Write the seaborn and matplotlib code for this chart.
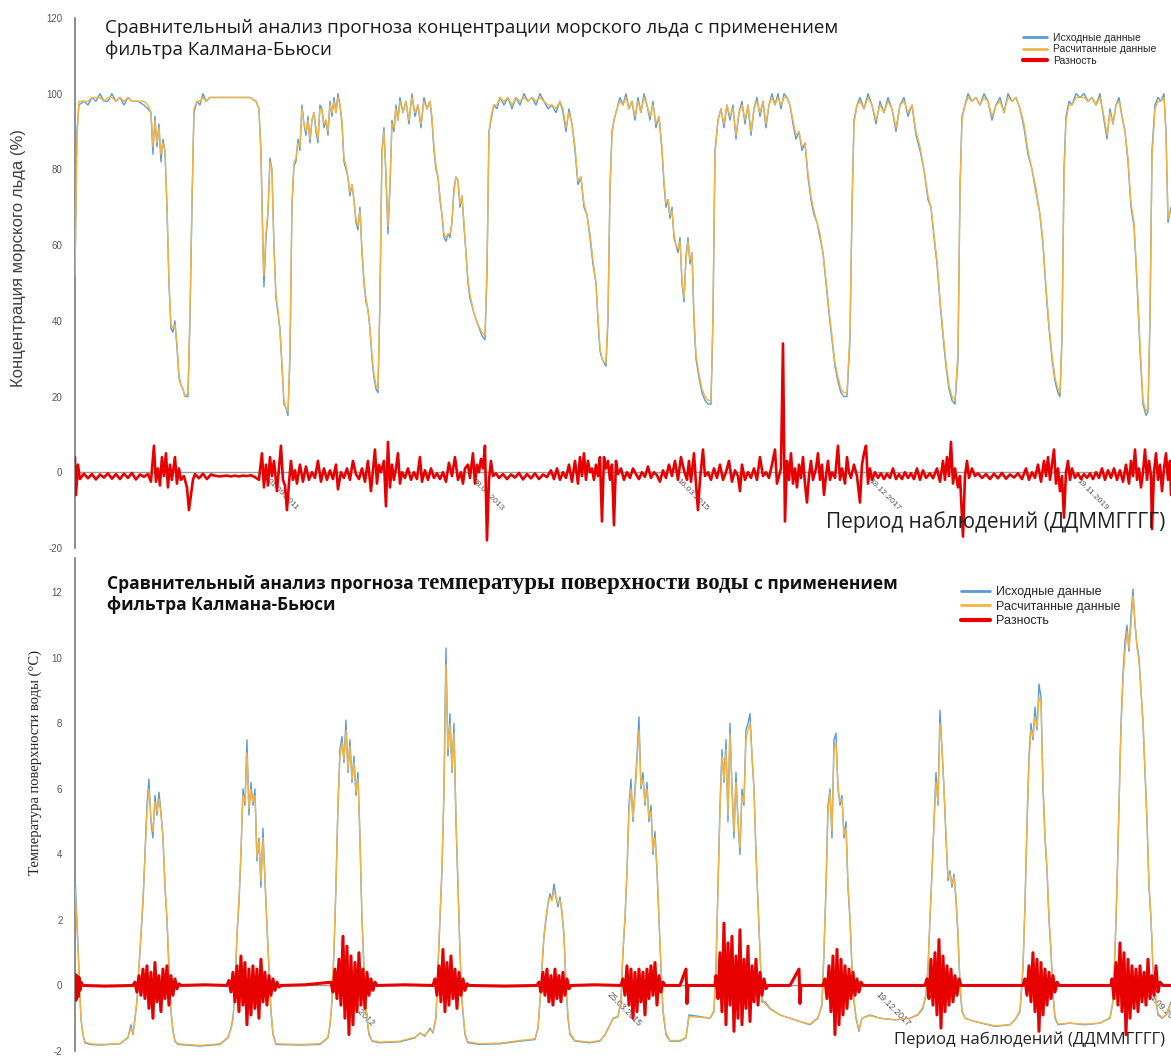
import seaborn as sns
import matplotlib.pyplot as plt

# --- Концентрация морского льда (%) : номер наблюдения / исходные / расчитанные ---
ice_t = [0, 2, 4, 9, 13, 17, 21, 25, 29, 33, 37, 41, 45, 49, 53, 57, 63, 69, 73, 76,
         78, 80, 82, 84, 86, 88, 90, 92, 94, 96, 98, 100, 102, 104, 106, 108, 110, 113, 115, 117,
         119, 122, 125, 128, 131, 135, 141, 147, 155, 165, 175, 181, 184, 186, 188, 189, 191, 193, 195, 197,
         199, 201, 203, 205, 207, 209, 211, 213, 215, 217, 219, 221, 223, 225, 227, 229, 231, 233, 235, 237,
         239, 241, 243, 245, 247, 249, 251, 253, 255, 257, 259, 261, 263, 265, 267, 269, 271, 273, 275, 277,
         279, 281, 283, 285, 287, 289, 291, 293, 295, 297, 299, 301, 303, 305, 307, 309, 311, 313, 315, 317,
         319, 321, 323, 325, 328, 331, 334, 337, 340, 343, 346, 349, 352, 355, 357, 359, 361, 363, 365, 367,
         369, 371, 373, 375, 377, 379, 381, 383, 385, 387, 389, 391, 393, 395, 399, 403, 407, 410, 412, 414,
         416, 419, 422, 425, 429, 433, 437, 441, 445, 449, 453, 457, 461, 465, 469, 473, 477, 481, 485, 488,
         491, 494, 497, 500, 503, 506, 509, 512, 515, 518, 521, 523, 525, 527, 529, 531, 533, 535, 537, 539,
         542, 545, 548, 551, 554, 557, 560, 563, 566, 569, 572, 575, 578, 581, 584, 587, 589, 591, 593, 595,
         597, 599, 601, 603, 605, 607, 609, 611, 613, 615, 617, 619, 621, 624, 627, 630, 633, 636, 638, 640,
         643, 646, 649, 652, 655, 658, 661, 664, 667, 670, 673, 676, 679, 682, 685, 688, 691, 694, 697, 700,
         703, 706, 709, 712, 715, 718, 721, 724, 727, 730, 733, 736, 739, 742, 745, 748, 751, 754, 757, 760,
         763, 766, 769, 772, 775, 777, 779, 782, 785, 789, 793, 797, 801, 805, 809, 813, 817, 821, 825, 829,
         833, 837, 841, 845, 849, 853, 856, 859, 862, 865, 868, 871, 874, 877, 880, 883, 885, 887, 890, 893,
         897, 901, 905, 909, 913, 917, 921, 925, 929, 933, 937, 941, 945, 949, 953, 957, 961, 965, 968, 971,
         974, 977, 980, 983, 985, 987, 989, 991, 994, 997, 1001, 1005, 1009, 1013, 1017, 1021, 1025, 1029, 1032, 1035,
         1038, 1041, 1044, 1047, 1050, 1053, 1056, 1059, 1062, 1065, 1068, 1071, 1073, 1075, 1077, 1080, 1083, 1086, 1089, 1091, 1093, 1096]
ice_obs = [50, 90, 97, 98, 97, 99, 98, 100, 98, 98, 100, 98, 99, 97, 99, 98, 98, 97, 96, 95,
           84, 94, 86, 92, 82, 88, 85, 70, 50, 38, 37, 40, 33, 25, 23, 22, 20, 20, 40, 70,
           95, 98, 97, 100, 98, 99, 99, 99, 99, 99, 99, 98, 96, 85, 60, 49, 62, 68, 83, 80,
           60, 46, 42, 38, 28, 18, 17, 15, 30, 70, 81, 82, 88, 85, 97, 92, 89, 94, 87, 93,
           95, 90, 87, 97, 96, 91, 93, 89, 98, 94, 99, 95, 100, 97, 92, 82, 80, 78, 73, 76,
           72, 66, 64, 70, 58, 50, 45, 43, 38, 30, 25, 22, 21, 45, 85, 91, 78, 63, 75, 93,
           90, 97, 93, 99, 95, 98, 92, 100, 94, 97, 91, 99, 96, 98, 93, 85, 80, 78, 72, 68,
           62, 61, 63, 62, 66, 75, 78, 77, 70, 73, 65, 58, 50, 46, 42, 39, 36, 35, 52, 90,
           93, 97, 96, 99, 97, 99, 96, 99, 97, 100, 98, 99, 97, 100, 98, 96, 97, 95, 98, 95,
           90, 96, 92, 85, 76, 78, 70, 68, 62, 55, 50, 40, 32, 30, 29, 28, 40, 75, 90, 93,
           96, 99, 97, 100, 96, 98, 93, 99, 95, 100, 97, 93, 98, 91, 94, 85, 76, 70, 72, 67,
           70, 62, 60, 58, 62, 50, 45, 57, 62, 55, 58, 40, 30, 25, 21, 19, 18, 18, 40, 85,
           93, 96, 91, 97, 93, 97, 88, 95, 98, 92, 97, 89, 96, 99, 94, 98, 91, 97, 100, 97,
           100, 96, 100, 99, 97, 92, 88, 90, 85, 87, 78, 72, 68, 66, 62, 58, 50, 42, 35, 28,
           24, 21, 20, 20, 35, 70, 93, 97, 99, 96, 100, 97, 92, 98, 95, 99, 96, 90, 97, 99,
           94, 97, 89, 85, 80, 72, 70, 62, 55, 45, 36, 28, 22, 19, 18, 30, 75, 94, 97, 100,
           98, 99, 97, 100, 98, 93, 97, 99, 95, 100, 98, 99, 96, 91, 84, 80, 74, 68, 60, 48,
           38, 30, 24, 21, 20, 35, 80, 94, 98, 97, 100, 99, 100, 98, 99, 97, 100, 93, 88, 96,
           92, 97, 99, 94, 90, 82, 70, 65, 50, 32, 18, 15, 16, 40, 85, 97, 99, 98, 100, 90, 66, 70]
ice_calc = [52, 88, 98, 98, 98, 99, 99, 99, 98, 99, 99, 98, 99, 98, 99, 98, 98, 98, 97, 95,
            86, 93, 87, 91, 84, 87, 85, 71, 51, 39, 38, 39, 34, 26, 23, 22, 20, 21, 42, 72,
            96, 98, 98, 99, 98, 99, 99, 99, 99, 99, 99, 98, 96, 84, 58, 52, 63, 69, 82, 80,
            59, 47, 43, 37, 29, 19, 17, 16, 32, 71, 82, 83, 87, 86, 96, 92, 90, 93, 88, 93,
            95, 91, 88, 96, 96, 92, 93, 90, 97, 95, 98, 95, 99, 97, 93, 83, 81, 78, 74, 76,
            72, 67, 65, 69, 59, 51, 46, 43, 38, 31, 26, 23, 22, 47, 84, 90, 79, 65, 76, 92,
            91, 96, 93, 98, 95, 98, 93, 99, 95, 97, 92, 98, 96, 98, 94, 86, 81, 78, 73, 68,
            63, 62, 63, 63, 66, 74, 78, 77, 71, 73, 66, 58, 51, 47, 42, 39, 37, 36, 54, 89,
            94, 97, 97, 99, 98, 99, 97, 99, 98, 99, 98, 99, 98, 99, 98, 97, 97, 96, 98, 96,
            91, 95, 92, 86, 77, 78, 71, 68, 63, 56, 50, 41, 33, 30, 29, 29, 42, 74, 89, 93,
            96, 98, 97, 99, 96, 98, 94, 98, 95, 99, 97, 94, 97, 92, 94, 86, 77, 71, 72, 68,
            69, 63, 60, 59, 61, 51, 46, 56, 61, 56, 58, 42, 31, 26, 22, 20, 19, 19, 42, 84,
            93, 96, 92, 97, 94, 96, 89, 95, 97, 93, 97, 90, 96, 98, 95, 98, 92, 97, 99, 97,
            99, 97, 99, 99, 97, 93, 89, 90, 86, 87, 79, 73, 69, 66, 63, 58, 51, 43, 36, 29,
            25, 22, 21, 21, 37, 69, 92, 97, 98, 96, 99, 97, 93, 97, 95, 98, 96, 91, 97, 98,
            95, 97, 90, 86, 80, 73, 70, 63, 56, 46, 37, 29, 23, 20, 19, 32, 74, 93, 97, 99,
            98, 99, 97, 99, 98, 94, 97, 98, 95, 99, 98, 99, 96, 92, 85, 80, 75, 68, 61, 49,
            39, 31, 25, 22, 21, 37, 78, 93, 97, 97, 99, 99, 99, 98, 99, 97, 99, 94, 89, 95,
            92, 97, 98, 94, 90, 83, 71, 66, 51, 34, 19, 16, 17, 42, 83, 96, 98, 98, 99, 89, 67, 69]

# разность (лёд)
ice_diff_t = [0, 1, 3, 5, 9, 13, 17, 21, 25, 29, 33, 37, 41, 45, 49, 53, 57, 61, 65, 69,
              73, 76, 79, 81, 83, 85, 87, 89, 91, 93, 95, 97, 100, 102, 104, 106, 109, 112, 114, 116,
              118, 120, 124, 128, 132, 136, 140, 144, 148, 152, 156, 160, 164, 168, 172, 176, 180, 184, 187, 189,
              191, 193, 195, 197, 199, 202, 204, 206, 208, 210, 212, 214, 216, 218, 220, 222, 225, 228, 231, 234,
              237, 240, 243, 246, 249, 252, 255, 258, 261, 263, 266, 269, 272, 275, 278, 281, 284, 287, 290, 293,
              296, 298, 300, 302, 304, 306, 309, 311, 313, 315, 317, 319, 321, 323, 325, 327, 330, 333, 336, 339,
              342, 345, 347, 350, 353, 356, 359, 362, 365, 368, 371, 374, 377, 380, 383, 386, 388, 390, 393, 395,
              398, 400, 402, 404, 406, 408, 410, 412, 414, 416, 418, 421, 424, 428, 432, 436, 440, 444, 448, 452,
              456, 460, 464, 468, 472, 476, 479, 482, 485, 488, 491, 494, 497, 500, 503, 505, 507, 509, 511, 513,
              515, 517, 519, 521, 523, 525, 527, 529, 531, 533, 535, 537, 539, 541, 543, 546, 549, 552, 555, 558,
              561, 564, 567, 570, 573, 576, 579, 582, 585, 588, 591, 594, 597, 600, 603, 606, 609, 612, 614, 616,
              619, 621, 623, 625, 628, 630, 633, 636, 639, 642, 645, 648, 651, 654, 657, 660, 663, 665, 667, 670,
              673, 676, 679, 682, 685, 688, 691, 694, 697, 700, 702, 704, 706, 708, 710, 712, 714, 716, 718, 720,
              722, 724, 726, 728, 730, 732, 734, 736, 738, 741, 743, 745, 747, 749, 751, 753, 755, 757, 760, 763,
              765, 767, 770, 772, 774, 776, 779, 782, 785, 787, 789, 791, 793, 795, 797, 800, 803, 806, 809, 812,
              815, 818, 821, 824, 827, 830, 833, 836, 839, 842, 845, 848, 851, 855, 858, 862, 865, 868, 870, 872,
              874, 876, 878, 880, 883, 885, 888, 890, 892, 894, 897, 900, 903, 907, 911, 915, 919, 923, 927, 931,
              935, 939, 943, 947, 951, 954, 957, 960, 963, 966, 969, 971, 973, 975, 977, 979, 981, 983, 985, 987,
              989, 991, 993, 995, 997, 1000, 1003, 1006, 1009, 1012, 1015, 1018, 1021, 1024, 1027, 1030, 1033, 1036, 1039, 1042,
              1045, 1048, 1051, 1054, 1056, 1058, 1060, 1062, 1064, 1066, 1068, 1070, 1072, 1074, 1076, 1077, 1079, 1081, 1083, 1085,
              1087, 1089, 1091, 1093, 1095, 1096]
ice_diff_v = [4, -6, 2, -1.8, -0.4, -1.6, -0.5, -1.9, -0.6, -1.4, -0.3, -1.7, -0.5, -1.8, -0.4, -1.5, -0.2, -1.9, -0.6, -1.2,
              -0.5, -2.5, 7, -2.5, 1, -3.5, 4, -1, 5, -4, 2, -2, 4, -3, 1, -2, -1, -4, -10, -6,
              -2, -0.5, -1.6, -0.4, -1.8, -0.6, -0.9, -1.1, -1.0, -0.9, -1.1, -0.9, -1.1, -0.9, -1.0, -0.8, -1.3, -2, 5, -4,
              2, -3.5, 4, -1, 3, -5, 1, 7, -2, -3.5, -10, -3, 3, -2, 0.5, -3, 2, -2.5, 1.5, -2,
              0, -1.5, 3, -2.5, 1, -2, 0.5, -1.8, 2, -4.5, 0, -1.5, 1, -2, 3, -0.5, -1.8, 1, -2.5, 3,
              -5, 0.5, 6, -3, 2, 0, 3, -9, 8, -4, 2, -2, 1, 5, -3, 0, -1.5, 1, -2, 0,
              -1.8, 4, -2.5, 0.5, -2, 1, -1.5, -0.3, -1.8, 0, -2.5, 2.5, -1, 4, -2, 0, -3, 1, 2, -1.5,
              5, -3, 2, 0, 3.5, 1, 7, -18, -2, 3, -1, -0.3, -1.5, -0.5, -1.8, -0.6, -1.4, -0.2, -1.9, -0.5,
              -1.6, -0.3, -1.8, -0.6, -1.3, 0.5, -1.8, 1, -2, 0, -1.5, 2, -2.5, 3, -3, 4, -1, 5, -2, 3,
              0, 1, -2, 2, -1, 4, -13, 4, 1, 3, -2, 2, -14, 3, -0.5, 1, -2, 0, -1.5, 1,
              -0.5, -1.8, 0, -1.2, 1.5, -1.5, 0, -0.8, -2.5, 0.5, -1.5, 2, -1, 3, -2, 4, 0.5, -2, 3, -2.5,
              5, -3, -10, -2, 6, -1, 0, -2, 1, -1.5, 2, -2, 0, 3, -2.5, 0.5, -1, -5, 2, -2,
              0, -1.5, 1, -2, 4, -1, 0, -1.5, 2, 6, -3, -1, 1, 34, -13, 3, -2, 5, -3, 1,
              -4, 2, -1.5, 4, -3, -8, -1, 3, -2, 1, 5, -2, 2, -6, -1, 3, -2, 0, -1.5, 7,
              -2, 1, -3, 4, 0, -1.5, 2, -1, -8, 2, 5, 7, -3, 1, -2, 0, -1.5, -0.3, -1.8, -0.4,
              -1.5, 1, -1.8, -0.5, -1.8, 0, -1.5, -0.3, -1.8, 1, -2, 0.5, -1.5, -0.3, -1.6, 1, -2.5, 3, -2, 4,
              -1, 8, -3, 1, -4, -1, -17, -1, 3, -1.5, 1, -1, -0.3, -1.5, -0.5, -1.8, -0.4, -1.6, -0.2, -1.7,
              -0.6, -1.4, -0.3, -1.8, 1, -2, 0, -1.5, 2, -2.5, 3, -1, 4, -2, 2, 6, -3, 1, -5, -1,
              -12, 0, 3, -2, 1, -1.5, -0.3, -1.8, -0.5, -1.5, -0.3, -1.8, 0, -1.5, 1, -2, 0.5, -1.5, 1, -2,
              0.5, -2.5, 2, -3, 3, -1, 6, -2, 1, -4, 0, 6, -2, 3, -1, -15, 0, 5, -2, 2,
              -5, 1, 5, -2, 3, -6]

ice_ticks = [195, 400, 605, 797, 1005]
ice_tick_labels = ['01.09.2011', '08.06.2013', '16.03.2015', '18.12.2017', '19.11.2019']

# --- Температура поверхности воды (°C) ---
sst_t = [0, 2, 4, 6, 8, 10, 15, 25, 35, 45, 53, 56, 58, 60, 62, 64, 66, 68, 70, 72,
         74, 76, 78, 80, 82, 84, 86, 88, 90, 92, 94, 96, 98, 100, 103, 125, 145, 153, 156, 158,
         160, 162, 164, 166, 168, 170, 172, 174, 176, 178, 180, 182, 184, 186, 188, 190, 192, 194, 196, 198,
         201, 225, 245, 253, 255, 257, 259, 261, 263, 265, 267, 269, 271, 273, 275, 277, 279, 281, 283, 285,
         287, 289, 291, 294, 297, 305, 325, 340, 345, 350, 355, 358, 361, 363, 365, 367, 369, 371, 373, 375,
         377, 379, 381, 383, 385, 387, 390, 393, 405, 425, 445, 460, 463, 465, 467, 469, 471, 473, 475, 477,
         479, 481, 483, 485, 487, 489, 491, 493, 495, 500, 515, 525, 530, 535, 538, 543, 546, 548, 550, 552,
         554, 556, 558, 560, 562, 564, 566, 568, 570, 572, 574, 576, 578, 580, 582, 584, 586, 588, 591, 595,
         605, 611, 614, 625, 635, 639, 641, 643, 645, 647, 649, 651, 653, 655, 657, 659, 661, 663, 665, 667,
         669, 671, 673, 675, 677, 679, 681, 683, 685, 687, 690, 695, 705, 715, 725, 735, 743, 747, 749, 751,
         753, 755, 757, 759, 761, 763, 765, 767, 769, 771, 773, 775, 777, 779, 781, 784, 787, 795, 805, 820,
         835, 843, 848, 851, 853, 855, 857, 859, 861, 863, 865, 867, 869, 871, 873, 875, 877, 879, 881, 883,
         885, 887, 890, 900, 920, 935, 940, 945, 948, 950, 952, 954, 956, 958, 960, 962, 964, 966, 968, 970,
         972, 974, 976, 978, 980, 983, 995, 1010, 1025, 1035, 1038, 1040, 1042, 1044, 1046, 1048, 1050, 1052, 1054, 1056,
         1058, 1060, 1062, 1064, 1066, 1068, 1070, 1072, 1074, 1076, 1078, 1080, 1083, 1087, 1091, 1096]
sst_obs = [3.4, 2.0, 0.5, -1.0, -1.5, -1.75, -1.8, -1.82, -1.8, -1.78, -1.6, -1.2, -1.5, -1.0, -0.5, 0.5, 1.5, 2.5, 4.0, 5.5,
           6.3, 5.0, 4.5, 5.8, 5.2, 5.9, 5.3, 4.5, 3.0, 2.0, 0.5, -0.8, -1.4, -1.7, -1.8, -1.85, -1.8, -1.6, -1.3, -1.0,
           -0.2, 1.5, 2.5, 4.0, 6.0, 5.5, 7.5, 5.2, 6.2, 5.5, 6.0, 3.8, 4.5, 3.0, 4.8, 3.2, 1.8, 0.5, -0.8, -1.5,
           -1.8, -1.82, -1.8, -1.6, -1.2, -0.5, 1.0, 3.0, 5.5, 7.2, 7.6, 6.8, 8.1, 6.5, 7.5, 6.2, 7.0, 5.8, 6.5, 4.5,
           2.0, 0.5, -0.8, -1.5, -1.7, -1.75, -1.72, -1.6, -1.45, -1.55, -1.3, -1.45, -1.0, 0.5, 2.0, 3.5, 6.0, 10.3, 7.0, 8.3,
           6.5, 8.0, 5.0, 3.0, 1.0, -0.5, -1.5, -1.75, -1.8, -1.78, -1.7, -1.65, -1.3, -0.5, 0.5, 1.5, 2.0, 2.5, 2.8, 2.6,
           3.1, 2.7, 2.4, 2.7, 2.2, 1.5, 0.0, -1.0, -1.5, -1.7, -1.75, -1.7, -1.5, -1.2, -1.0, -0.95, -0.5, 1.0, 2.0, 3.5,
           5.5, 6.3, 5.0, 6.0, 7.0, 8.2, 6.0, 6.5, 5.5, 6.2, 5.0, 5.5, 4.0, 4.7, 3.5, 2.0, 0.5, -0.8, -1.5, -1.7,
           -1.7, -1.6, -0.9, -0.95, -1.0, -0.8, 0.5, 3.0, 5.5, 7.2, 6.2, 7.5, 5.0, 8.0, 6.0, 4.5, 6.5, 5.0, 4.0, 6.0,
           5.5, 7.8, 8.0, 8.3, 7.0, 6.0, 4.0, 2.5, 1.0, -0.5, -0.5, -0.7, -0.9, -1.0, -1.1, -1.2, -1.0, -0.6, 1.0, 3.0,
           5.5, 6.0, 4.5, 7.5, 7.7, 6.0, 5.5, 5.8, 4.5, 5.0, 3.0, 2.0, 0.5, -0.5, -1.0, -1.4, -1.0, -0.9, -1.0, -1.05,
           -1.0, -0.9, -0.7, -0.3, 0.5, 2.0, 3.5, 5.0, 6.5, 5.5, 8.4, 7.2, 6.0, 4.5, 3.2, 3.5, 3.0, 3.4, 2.6, 1.5,
           0.0, -0.8, -1.0, -1.1, -1.25, -1.2, -1.05, -0.8, 0.5, 2.5, 5.0, 7.0, 8.0, 7.5, 8.5, 7.8, 9.2, 8.8, 6.0, 4.5,
           3.5, 2.0, 1.0, -0.3, -1.0, -1.2, -1.15, -1.2, -1.15, -1.0, -0.5, 1.0, 3.0, 5.5, 8.0, 9.5, 10.5, 11.0, 10.2, 11.3,
           12.1, 11.0, 10.4, 10.0, 9.0, 8.0, 6.5, 5.0, 3.0, 2.0, 0.5, -0.3, -0.9, -1.0, -0.9, -0.5]
sst_calc = [3.0, 1.8, 0.4, -1.0, -1.5, -1.72, -1.78, -1.8, -1.79, -1.77, -1.58, -1.3, -1.45, -1.05, -0.45, 0.6, 1.6, 2.6, 3.9, 5.3,
            6.0, 5.1, 4.7, 5.6, 5.3, 5.7, 5.2, 4.6, 3.1, 2.1, 0.6, -0.7, -1.35, -1.68, -1.78, -1.83, -1.78, -1.58, -1.35, -1.05,
            -0.1, 1.6, 2.6, 4.1, 5.8, 5.6, 7.1, 5.4, 6.0, 5.6, 5.8, 3.9, 4.4, 3.2, 4.5, 3.3, 1.9, 0.6, -0.7, -1.45,
            -1.78, -1.8, -1.78, -1.58, -1.25, -0.45, 1.1, 3.1, 5.4, 7.0, 7.4, 6.9, 7.8, 6.6, 7.3, 6.3, 6.8, 5.9, 6.3, 4.6,
            2.1, 0.6, -0.7, -1.45, -1.68, -1.73, -1.7, -1.58, -1.47, -1.52, -1.35, -1.42, -0.95, 0.6, 2.1, 3.6, 5.8, 9.8, 7.2, 8.0,
            6.6, 7.7, 5.2, 3.1, 1.1, -0.4, -1.45, -1.72, -1.78, -1.76, -1.68, -1.63, -1.32, -0.45, 0.6, 1.5, 2.1, 2.5, 2.7, 2.6,
            2.9, 2.7, 2.5, 2.6, 2.3, 1.6, 0.1, -0.9, -1.45, -1.68, -1.73, -1.68, -1.52, -1.22, -1.02, -0.97, -0.45, 1.1, 2.1, 3.4,
            5.3, 6.0, 5.1, 5.8, 6.8, 7.8, 6.1, 6.3, 5.6, 6.0, 5.1, 5.3, 4.1, 4.5, 3.6, 2.1, 0.6, -0.7, -1.45, -1.68,
            -1.68, -1.58, -0.95, -0.97, -1.0, -0.75, 0.6, 2.9, 5.3, 7.0, 6.3, 7.2, 5.2, 7.7, 6.1, 4.7, 6.2, 5.1, 4.2, 5.8,
            5.6, 7.5, 7.8, 8.0, 7.1, 6.0, 4.1, 2.6, 1.1, -0.4, -0.55, -0.72, -0.9, -1.0, -1.1, -1.18, -0.98, -0.55, 1.1, 2.9,
            5.3, 5.9, 4.7, 7.2, 7.4, 6.1, 5.6, 5.7, 4.6, 4.8, 3.1, 2.1, 0.6, -0.4, -0.95, -1.35, -1.0, -0.92, -1.0, -1.05,
            -1.0, -0.88, -0.65, -0.25, 0.6, 2.1, 3.4, 4.9, 6.2, 5.6, 8.0, 7.3, 6.0, 4.6, 3.3, 3.4, 3.1, 3.3, 2.7, 1.6,
            0.1, -0.75, -1.0, -1.1, -1.23, -1.2, -1.05, -0.75, 0.6, 2.4, 4.8, 6.8, 7.8, 7.6, 8.2, 7.9, 8.8, 8.6, 6.2, 4.6,
            3.6, 2.1, 1.1, -0.2, -0.95, -1.18, -1.15, -1.18, -1.15, -0.98, -0.45, 1.1, 3.1, 5.4, 7.8, 9.3, 10.2, 10.8, 10.3, 11.0,
            11.9, 11.1, 10.3, 9.9, 9.0, 8.1, 6.6, 5.1, 3.1, 2.1, 0.6, -0.2, -0.85, -0.98, -0.9, -0.55]

# разность (температура)
sst_diff_t = [0, 1, 2, 3, 4, 5, 6, 8, 30, 58, 60, 62, 64, 66, 68, 70, 72, 74, 76, 78,
              80, 82, 84, 86, 88, 90, 92, 94, 96, 98, 100, 102, 104, 106, 130, 152, 154, 156, 158, 160,
              162, 164, 166, 168, 170, 172, 174, 176, 178, 180, 182, 184, 186, 188, 190, 192, 194, 196, 198, 200,
              202, 204, 206, 230, 256, 258, 260, 262, 264, 266, 268, 270, 272, 274, 276, 278, 280, 282, 284, 286,
              288, 290, 292, 294, 296, 298, 300, 302, 330, 358, 360, 362, 364, 366, 368, 370, 372, 374, 376, 378,
              380, 382, 384, 386, 388, 390, 392, 394, 430, 462, 464, 466, 468, 470, 472, 474, 476, 478, 480, 482,
              484, 486, 488, 490, 492, 494, 496, 520, 546, 548, 550, 552, 554, 556, 558, 560, 562, 564, 566, 568,
              570, 572, 574, 576, 578, 580, 582, 584, 586, 588, 590, 605, 611, 612, 613, 640, 641, 643, 645, 647,
              649, 651, 653, 655, 657, 659, 661, 663, 665, 667, 669, 671, 673, 675, 677, 679, 681, 683, 685, 687,
              689, 691, 693, 715, 724, 725, 726, 748, 750, 752, 754, 756, 758, 760, 762, 764, 766, 768, 770, 772,
              774, 776, 778, 780, 782, 784, 786, 788, 820, 850, 852, 854, 856, 858, 860, 862, 864, 866, 868, 870,
              872, 874, 876, 878, 880, 882, 884, 886, 920, 948, 950, 952, 954, 956, 958, 960, 962, 964, 966, 968,
              970, 972, 974, 976, 978, 980, 982, 984, 1010, 1036, 1037, 1039, 1041, 1043, 1045, 1047, 1049, 1051, 1053, 1055,
              1057, 1059, 1061, 1063, 1065, 1067, 1069, 1071, 1073, 1075, 1077, 1079, 1081, 1083, 1085, 1088, 1096]
sst_diff_v = [0.35, -0.45, 0.3, -0.35, 0.25, -0.15, 0.1, 0.0, -0.02, 0.0, 0.1, -0.2, 0.3, -0.3, 0.5, -0.4, 0.6, -0.7, 0.4, -1.0,
              0.7, -0.5, 0.3, -0.8, 0.5, -0.4, 0.6, -0.6, 0.3, -0.3, 0.2, -0.1, 0.05, 0.0, 0.02, 0.0, 0.15, -0.2, 0.4, -0.5,
              0.6, -0.8, 0.9, -0.6, 0.7, -1.2, 0.5, -0.9, 0.6, -0.7, 0.5, -1.0, 0.8, -0.5, 0.4, -0.6, 0.3, -0.3, 0.2, -0.15,
              0.1, -0.05, 0.0, 0.02, 0.1, -0.2, 0.5, -0.4, 0.8, -0.6, 1.5, -1.0, 1.2, -1.5, 0.9, -1.2, 0.7, -0.8, 1.0, -0.6,
              0.5, -0.7, 0.4, -0.3, 0.2, -0.15, 0.1, 0.0, 0.02, 0.0, 0.2, -0.3, 0.6, -0.5, 1.1, -0.8, 0.7, -0.6, 0.9, -0.4,
              0.5, -0.7, 0.4, -0.3, 0.2, -0.15, 0.05, 0.0, -0.02, 0.0, 0.1, -0.2, 0.4, -0.3, 0.5, -0.5, 0.3, -0.6, 0.5, -0.4,
              0.3, -0.5, 0.4, -0.3, 0.2, -0.1, 0.0, 0.02, 0.0, 0.2, -0.3, 0.6, -0.6, 0.5, -1.0, 0.4, -0.8, 0.5, -0.5, 0.4,
              -0.9, 0.5, -0.4, 0.6, -0.3, 0.7, -0.6, 0.3, -0.2, 0.1, 0.0, 0.0, 0.5, -0.55, 0.0, 0.0, 0.3, -0.4, 1.0, -0.8,
              1.9, -1.2, 1.3, -0.6, 1.5, -1.4, 0.9, -1.0, 1.7, -1.2, 0.8, -0.7, 1.2, -1.1, 0.6, -0.5, 0.8, -0.6, 0.4, -0.3,
              0.2, -0.1, 0.0, 0.0, 0.5, -0.55, 0.0, 0.0, 0.2, -0.4, 0.6, -0.8, 0.9, -1.5, 1.1, -1.2, 0.8, -0.9, 0.6, -0.7,
              0.5, -0.4, 0.4, -0.3, 0.2, -0.2, 0.1, 0.0, 0.0, 0.0, 0.2, -0.4, 0.8, -0.6, 1.0, -0.9, 1.4, -1.3, 0.9, -0.8,
              0.6, -0.6, 0.5, -0.5, 0.3, -0.3, 0.2, 0.0, 0.0, 0.0, 0.2, -0.3, 0.6, -0.5, 1.0, -0.8, 0.8, -1.4, 0.7, -0.9,
              0.5, -0.6, 0.4, -0.4, 0.3, -0.2, 0.1, 0.0, 0.0, 0.0, 0.2, -0.4, 0.7, -0.6, 1.3, -0.8, 1.0, -1.5, 0.8, -1.0,
              0.6, -0.7, 0.5, -0.8, 0.6, -0.5, 0.4, -0.6, 0.8, -0.4, 0.3, -0.3, 0.6, -0.2, 0.1, 0.0, 0.0]

sst_ticks = [270, 537, 805, 1075]
sst_tick_labels = ['28.06.2012', '25.03.2015', '19.12.2017', '14.09.2020']

legend_labels = ['Исходные данные', 'Расчитанные данные', 'Разность']

BLUE = '#5b9bd5'
ORANGE = '#f2b544'
RED = '#e60000'

sns.set_style('white')
plt.rcParams['font.family'] = ['Open Sans', 'DejaVu Sans']
plt.rcParams['axes.unicode_minus'] = False

fig = plt.figure(figsize=(11.71, 10.57), dpi=100)
fig.patch.set_facecolor('white')
ax1 = fig.add_axes([0.064, 0.4816, 0.936, 0.5014])
ax2 = fig.add_axes([0.064, 0.0057, 0.936, 0.4664])


def draw_panel(ax, t, obs, calc, dt, dv, ticks, tick_labels, tick_size, red_lw):
    sns.lineplot(x=t, y=obs, ax=ax, color=BLUE, linewidth=1.0, estimator=None,
                 label=legend_labels[0], zorder=3)
    sns.lineplot(x=t, y=calc, ax=ax, color=ORANGE, linewidth=1.0, estimator=None,
                 label=legend_labels[1], zorder=4)
    sns.lineplot(x=dt, y=dv, ax=ax, color=RED, linewidth=red_lw, estimator=None,
                 label=legend_labels[2], zorder=5)
    ax.set_xlim(0, 1096)
    for s in ['top', 'right']:
        ax.spines[s].set_visible(False)
    ax.spines['bottom'].set_position(('data', 0))
    ax.spines['bottom'].set_color('#9a9a9a')
    ax.spines['bottom'].set_linewidth(1.0)
    ax.spines['left'].set_color('#7a7a7a')
    ax.spines['left'].set_linewidth(1.2)
    ax.tick_params(axis='y', direction='out', length=7, width=1, color='#7a7a7a',
                   labelsize=7, labelcolor='#555555', pad=2)
    ax.tick_params(axis='x', direction='inout', length=5, width=0.8, color='#555555',
                   labelsize=tick_size, labelcolor='#555555', pad=1)
    ax.set_xticks(ticks)
    ax.set_xticklabels(tick_labels, rotation=-45, ha='left', va='top',
                       rotation_mode='anchor', family=['Liberation Sans', 'DejaVu Sans'])
    for lab in ax.get_yticklabels():
        lab.set_family(['Liberation Sans', 'DejaVu Sans'])
    ax.set_xlabel('')
    ax.set_ylabel('')
    ax.grid(False)


draw_panel(ax1, ice_t, ice_obs, ice_calc, ice_diff_t, ice_diff_v,
           ice_ticks, ice_tick_labels, 6, 1.9)
ax1.set_ylim(-20, 120)
ax1.set_yticks([-20, 0, 20, 40, 60, 80, 100, 120])

draw_panel(ax2, sst_t, sst_obs, sst_calc, sst_diff_t, sst_diff_v,
           sst_ticks, sst_tick_labels, 6.5, 2.2)
ax2.set_ylim(-2, 13.05)
ax2.set_yticks([-2, 0, 2, 4, 6, 8, 10, 12])

# легенды
leg1 = ax1.legend(loc='upper left', bbox_to_anchor=(0.866, 0.978), bbox_transform=fig.transFigure,
                  frameon=False, handlelength=2.3, labelspacing=0.15, handletextpad=0.5,
                  prop={'family': ['Liberation Sans', 'DejaVu Sans'], 'size': 7.5})
leg2 = ax2.legend(loc='upper left', bbox_to_anchor=(0.811, 0.456), bbox_transform=fig.transFigure,
                  frameon=False, handlelength=2.3, labelspacing=0.2, handletextpad=0.5,
                  prop={'family': ['Liberation Sans', 'DejaVu Sans'], 'size': 9})
for leg in (leg1, leg2):
    for ln, w in zip(leg.get_lines(), [2.0, 2.0, 3.0]):
        ln.set_linewidth(w)

# заголовки
fig.text(0.0897, 0.982, 'Сравнительный анализ прогноза концентрации морского льда с применением\n'
         'фильтра Калмана-Бьюси', ha='left', va='top', fontsize=13.5, linespacing=1.25, color='#1a1a1a')

renderer = fig.canvas.get_renderer()
sans = ['Open Sans', 'DejaVu Sans']
serif = ['Liberation Serif', 'DejaVu Serif']
parts = [('Сравнительный анализ прогноза', sans, 12.5), ('температуры поверхности воды', serif, 16.5),
         ('с применением', sans, 12.5)]
cx = 0.0914
for txt, fam, size in parts:
    tx = fig.text(cx, 0.4428, txt, ha='left', va='baseline', fontsize=size, fontweight='bold',
                  family=fam, color='#111111')
    cx += tx.get_window_extent(renderer=renderer).width / fig.bbox.width + 0.004
fig.text(0.0914, 0.4225, 'фильтра Калмана-Бьюси', ha='left', va='baseline', fontsize=12.5,
         fontweight='bold', family=sans, color='#111111')

# подписи осей
fig.text(0.0154, 0.756, 'Концентрация морского льда (%)', rotation=90, ha='center', va='center',
         fontsize=12, color='#404040', family=['Liberation Sans', 'DejaVu Sans'])
fig.text(0.030, 0.279, 'Температура поверхности воды (°C)', rotation=90, ha='center', va='center',
         fontsize=10.5, color='#222222', family=serif)
fig.text(0.995, 0.506, 'Период наблюдений (ДДММГГГГ)', ha='right', va='center',
         fontsize=15, color='#222222')
fig.text(0.995, 0.016, 'Период наблюдений (ДДММГГГГ)', ha='right', va='center',
         fontsize=12, color='#222222')

plt.savefig('out.png', dpi=100, facecolor='white')
plt.close()
